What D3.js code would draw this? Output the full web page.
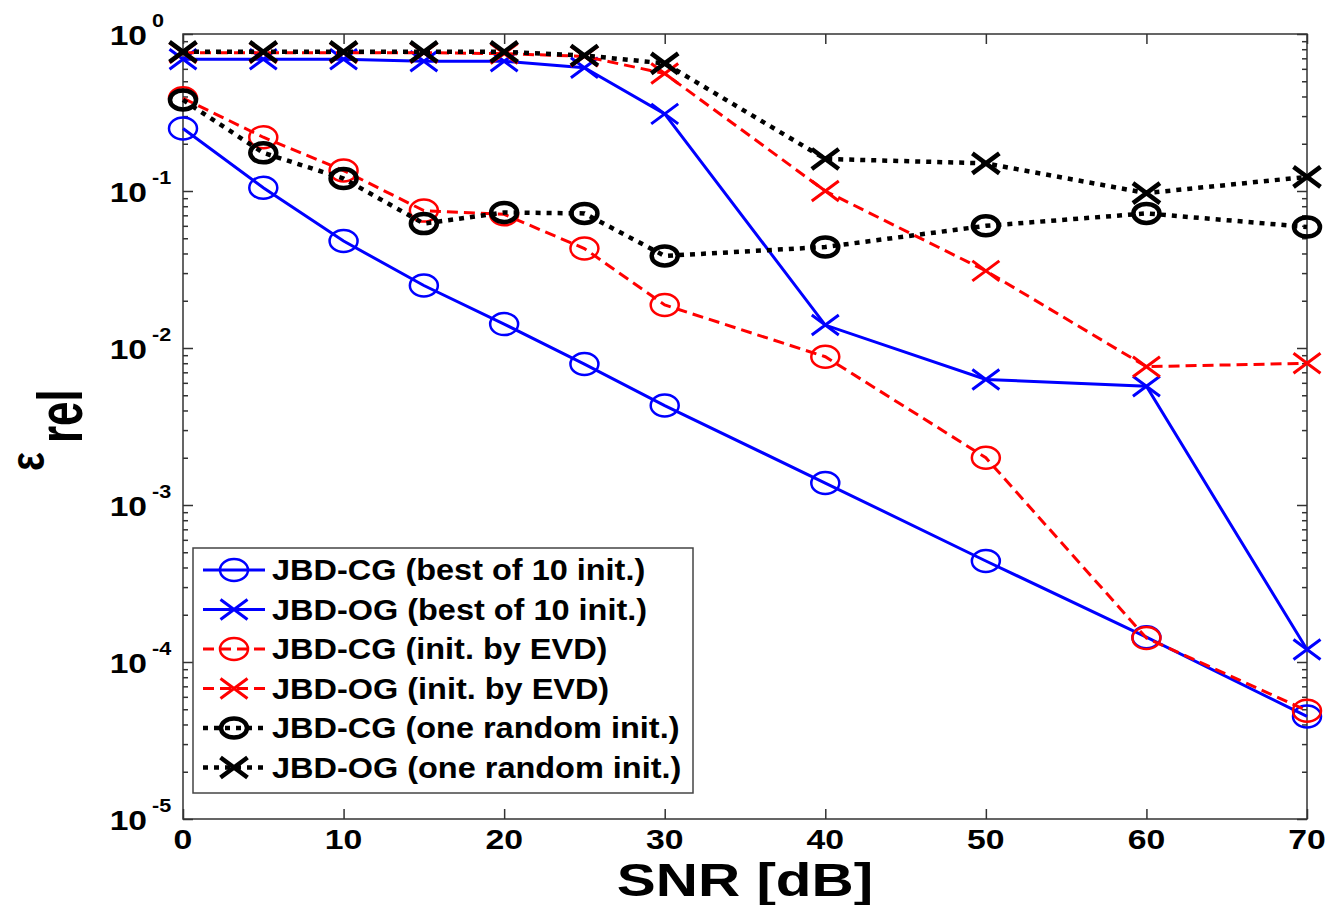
<!DOCTYPE html>
<html>
<head>
<meta charset="utf-8">
<script src="https://cdn.jsdelivr.net/npm/d3@7"></script>
<style>
  body { margin: 0; background: #fff; }
  svg { display: block; font-family: "Liberation Sans", Arial, sans-serif; font-weight: bold; }
</style>
</head>
<body>
<svg id="chart" width="1330" height="905"></svg>
<script>
// Data
var snr = [0, 5, 10, 15, 20, 25, 30, 40, 50, 60, 70];
var cgBest = [0.25, 0.105, 0.048, 0.025, 0.0142, 0.0079, 0.0043, 0.00138, 0.00044, 0.000144, 0.000045];
var ogBest = [0.69, 0.69, 0.69, 0.67, 0.67, 0.61, 0.31, 0.014, 0.0063, 0.0057, 0.00012];
var cgEvd = [0.39, 0.22, 0.135, 0.075, 0.071, 0.043, 0.0188, 0.0088, 0.0020, 0.000142, 0.000049];
var ogEvd = [0.76, 0.76, 0.76, 0.76, 0.75, 0.72, 0.56, 0.10, 0.031, 0.0076, 0.0080];
var cgRand = [0.38, 0.175, 0.12, 0.062, 0.073, 0.072, 0.0386, 0.044, 0.060, 0.072, 0.059];
var ogRand = [0.77, 0.77, 0.77, 0.77, 0.77, 0.73, 0.65, 0.16, 0.15, 0.097, 0.123];

var seriesNames = [
  "JBD-CG (best of 10 init.)",
  "JBD-OG (best of 10 init.)",
  "JBD-CG (init. by EVD)",
  "JBD-OG (init. by EVD)",
  "JBD-CG (one random init.)",
  "JBD-OG (one random init.)"
];
var xTicks = [0, 10, 20, 30, 40, 50, 60, 70];
var yExponents = [0, -1, -2, -3, -4, -5];

// styles per series
var styles = [
  { values: cgBest, color: "#0000ff", dash: null, width: 3, marker: "o", mw: 2.5, rx: 14, ry: 11 },
  { values: ogBest, color: "#0000ff", dash: null, width: 3, marker: "x", mw: 3, rx: 13.5, ry: 10 },
  { values: cgEvd, color: "#ff0000", dash: "11,6", width: 3, marker: "o", mw: 2.5, rx: 14, ry: 11 },
  { values: ogEvd, color: "#ff0000", dash: "11,6", width: 3, marker: "x", mw: 3, rx: 13.5, ry: 10 },
  { values: cgRand, color: "#000000", dash: "5,6", width: 4.5, marker: "o", mw: 4.5, rx: 13, ry: 9.5 },
  { values: ogRand, color: "#000000", dash: "5,6", width: 4.5, marker: "x", mw: 4.5, rx: 13.5, ry: 10 }
];

var margin = { top: 34, right: 23, bottom: 86, left: 183 },
  W = 1330, H = 905,
  width = W - margin.left - margin.right,
  height = H - margin.top - margin.bottom,
  axisColor = "#333";

var svg = d3.select("#chart");
var g = svg.append("g").attr("transform", "translate(" + margin.left + "," + margin.top + ")");

var x = d3.scaleLinear().domain([0, 70]).range([0, width]);
var y = d3.scaleLog().domain([1e-5, 1]).range([height, 0]);

// minor ticks for the log axis
var minor = [];
yExponents.slice(0, -1).forEach(function(e) {
  for (var k = 2; k <= 9; k++) minor.push(k * Math.pow(10, e - 1));
});

function styleAxis(sel) {
  sel.select(".domain").remove();
  sel.selectAll("line").attr("stroke", axisColor).attr("stroke-width", 1.5);
  sel.selectAll("text").remove();
}

// major/minor ticks, inward, on all four sides
g.append("g").attr("transform", "translate(0," + height + ")")
  .call(d3.axisBottom(x).tickValues(xTicks).tickSize(-10).tickFormat("")).call(styleAxis);
g.append("g")
  .call(d3.axisTop(x).tickValues(xTicks).tickSize(-10).tickFormat("")).call(styleAxis);
g.append("g")
  .call(d3.axisLeft(y).tickValues(yExponents.map(function(e) { return Math.pow(10, e); })).tickSize(-10).tickFormat("")).call(styleAxis);
g.append("g")
  .call(d3.axisLeft(y).tickValues(minor).tickSize(-5).tickFormat("")).call(styleAxis);
g.append("g").attr("transform", "translate(" + width + ",0)")
  .call(d3.axisRight(y).tickValues(yExponents.map(function(e) { return Math.pow(10, e); })).tickSize(-10).tickFormat("")).call(styleAxis);
g.append("g").attr("transform", "translate(" + width + ",0)")
  .call(d3.axisRight(y).tickValues(minor).tickSize(-5).tickFormat("")).call(styleAxis);

// box
g.append("rect")
  .attr("width", width).attr("height", height)
  .attr("fill", "none").attr("stroke", axisColor).attr("stroke-width", 1.5);

// x tick labels
xTicks.forEach(function(t) {
  g.append("text")
    .attr("transform", "translate(" + x(t) + "," + (height + 29.5) + ") scale(1.25,1)")
    .attr("text-anchor", "middle")
    .attr("font-size", 27)
    .text(t);
});

// y tick labels: 10 with superscript exponent
yExponents.forEach(function(e) {
  var yy = y(Math.pow(10, e));
  g.append("text")
    .attr("transform", "translate(-36," + (yy + 11) + ") scale(1.2,1)")
    .attr("text-anchor", "end")
    .attr("font-size", 28)
    .text("10");
  g.append("text")
    .attr("transform", "translate(-31," + (yy - 7) + ") scale(1.2,1)")
    .attr("font-size", 18)
    .text(e);
});

// axis labels
svg.append("text")
  .attr("transform", "translate(" + (margin.left + width / 2) + ",896) scale(1.27,1)")
  .attr("text-anchor", "middle")
  .attr("font-size", 46)
  .text("SNR [dB]");

// y label: epsilon with subscript "rel", rotated
svg.append("text")
  .attr("transform", "translate(44,471) rotate(-90) scale(1,1.2)")
  .attr("font-size", 40)
  .text("ε");
svg.append("text")
  .attr("transform", "translate(82,443) rotate(-90) scale(1,1.45)")
  .attr("font-size", 44)
  .text("rel");

// lines and markers
var line = d3.line()
  .x(function(d) { return x(d[0]); })
  .y(function(d) { return y(d[1]); });

function drawMarker(sel, s, cx, cy) {
  if (s.marker === "o") {
    sel.append("ellipse")
      .attr("cx", cx).attr("cy", cy).attr("rx", s.rx).attr("ry", s.ry)
      .attr("fill", "none").attr("stroke", s.color).attr("stroke-width", s.mw);
  } else {
    sel.append("path")
      .attr("d", "M" + (cx - s.rx) + "," + (cy - s.ry) + "L" + (cx + s.rx) + "," + (cy + s.ry) +
        "M" + (cx - s.rx) + "," + (cy + s.ry) + "L" + (cx + s.rx) + "," + (cy - s.ry))
      .attr("fill", "none").attr("stroke", s.color).attr("stroke-width", s.mw);
  }
}

styles.forEach(function(s) {
  var pts = snr.map(function(v, i) { return [v, s.values[i]]; });
  var sg = g.append("g");
  sg.append("path")
    .datum(pts)
    .attr("d", line)
    .attr("fill", "none")
    .attr("stroke", s.color)
    .attr("stroke-width", s.width)
    .attr("stroke-dasharray", s.dash);
  pts.forEach(function(p) { drawMarker(sg, s, x(p[0]), y(p[1])); });
});

// legend
var legX = 193, legY = 548, legW = 500, legH = 245, rowH = 39.5;
var leg = svg.append("g");
leg.append("rect")
  .attr("x", legX).attr("y", legY).attr("width", legW).attr("height", legH)
  .attr("fill", "#fff").attr("stroke", "#444").attr("stroke-width", 1.5);

styles.forEach(function(s, i) {
  var base = legY + 32 + i * rowH;
  var cy = base - 10;
  leg.append("line")
    .attr("x1", legX + 10).attr("x2", legX + 72)
    .attr("y1", cy).attr("y2", cy)
    .attr("stroke", s.color).attr("stroke-width", s.width)
    .attr("stroke-dasharray", s.dash);
  drawMarker(leg, s, legX + 41, cy);
  leg.append("text")
    .attr("transform", "translate(" + (legX + 79) + "," + base + ") scale(1.12,1)")
    .attr("font-size", 29)
    .text(seriesNames[i]);
});
</script>
</body>
</html>
